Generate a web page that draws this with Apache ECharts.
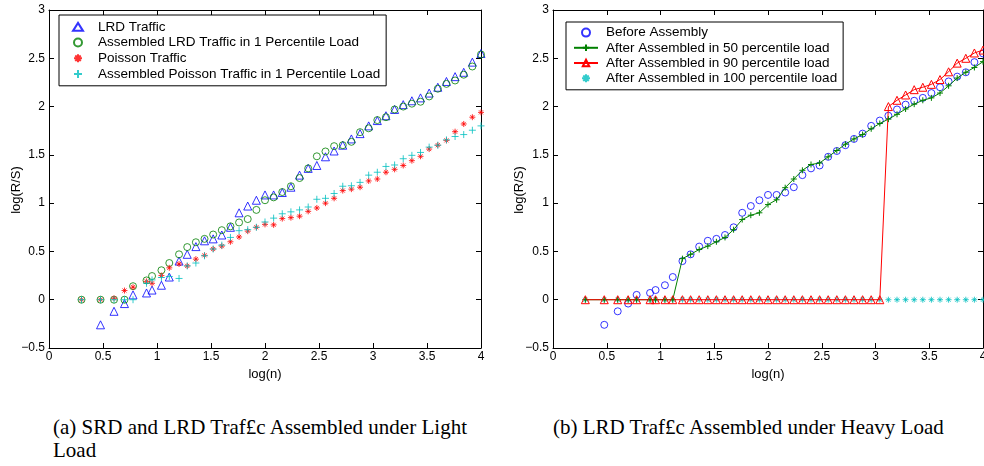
<!DOCTYPE html>
<html>
<head>
<meta charset="utf-8">
<title>R/S plots</title>
<script src="https://cdn.jsdelivr.net/npm/echarts@6/dist/echarts.min.js"></script>
<style>
  body { margin: 0; background: #fff; }
  #wrap { position: relative; width: 984px; height: 466px; overflow: hidden; }
  #lightLoad { position: absolute; left: 0; top: 0; width: 500px; height: 400px; }
  #heavyLoad { position: absolute; left: 500px; top: 0; width: 484px; height: 400px; }
  .cap { position: absolute; font-family: "Liberation Serif"; font-size: 21px; line-height: 23px; color: #000; }
  #capA { left: 53px; top: 416px; width: 414px; text-align: justify; }
  #capB { left: 553px; top: 416px; white-space: nowrap; }
</style>
</head>
<body>
<div id="wrap">
  <div id="lightLoad"></div>
  <div id="heavyLoad"></div>
  <div class="cap" id="capA">(a) SRD and LRD Traf£c Assembled under Light Load</div>
  <div class="cap" id="capB">(b) LRD Traf£c Assembled under Heavy Load</div>
</div>
<script>
// log(n) positions shared by every series
var logN = [0.301, 0.477, 0.602, 0.699, 0.778, 0.903, 0.954, 1.041, 1.114, 1.204,
  1.28, 1.36, 1.44, 1.52, 1.6, 1.68, 1.76, 1.84, 1.92, 2.0,
  2.08, 2.16, 2.24, 2.32, 2.4, 2.48, 2.56, 2.64, 2.72, 2.8,
  2.88, 2.96, 3.04, 3.12, 3.2, 3.28, 3.36, 3.44, 3.52, 3.6,
  3.68, 3.76, 3.84, 3.92, 4.0];

// (a) light load
var lrdTraffic = [null, -0.26, -0.12, -0.04, 0.05, 0.07, 0.10, 0.15, 0.235, 0.40,
  0.47, 0.55, 0.61, 0.63, 0.67, 0.75, 0.90, 0.97, 1.03, 1.085,
  1.085, 1.11, 1.165, 1.29, 1.36, 1.39, 1.48, 1.54, 1.60, 1.665,
  1.72, 1.80, 1.855, 1.905, 1.97, 2.02, 2.06, 2.09, 2.14, 2.20,
  2.26, 2.31, 2.355, 2.46, 2.55];
var lrdAssembled1 = [0, 0, 0, 0, 0.14, 0.20, 0.245, 0.305, 0.38, 0.47,
  0.545, 0.595, 0.63, 0.675, 0.72, 0.76, 0.80, 0.835, 0.93, 1.03,
  1.06, 1.115, 1.175, 1.26, 1.36, 1.485, 1.535, 1.59, 1.60, 1.635,
  1.735, 1.775, 1.86, 1.89, 1.97, 2.00, 2.03, 2.05, 2.105, 2.185,
  2.235, 2.27, 2.33, 2.415, 2.54];
var poissonTraffic = [0, 0, 0.015, 0.095, 0.13, 0.19, 0.17, 0.25, 0.33, 0.37,
  0.35, 0.42, 0.46, 0.525, 0.555, 0.60, 0.65, 0.71, 0.75, 0.78,
  0.775, 0.84, 0.85, 0.865, 0.915, 0.95, 1.00, 1.05, 1.13, 1.145,
  1.165, 1.23, 1.25, 1.32, 1.35, 1.39, 1.44, 1.485, 1.56, 1.60,
  1.65, 1.74, 1.82, 1.89, 1.94];
var poissonAssembled1 = [0, 0, 0, 0, 0, 0.17, 0.205, 0.23, 0.24, 0.22,
  0.35, 0.38, 0.455, 0.525, 0.565, 0.645, 0.715, 0.725, 0.75, 0.805,
  0.845, 0.89, 0.91, 0.93, 0.96, 1.04, 1.05, 1.10, 1.175, 1.18,
  1.215, 1.29, 1.32, 1.38, 1.395, 1.46, 1.495, 1.525, 1.58, 1.60,
  1.655, 1.69, 1.71, 1.755, 1.80];

// (b) heavy load
var beforeAssembly = lrdTraffic;
var assembled50 = [0, 0, 0, 0, 0, 0, 0, 0, 0, 0.425,
  0.47, 0.52, 0.555, 0.60, 0.645, 0.725, 0.83, 0.875, 0.90, 0.985,
  1.035, 1.16, 1.25, 1.34, 1.40, 1.415, 1.48, 1.545, 1.61, 1.665,
  1.71, 1.77, 1.825, 1.87, 1.92, 1.975, 2.025, 2.065, 2.09, 2.14,
  2.215, 2.295, 2.355, 2.405, 2.465];
var assembled90 = [0, 0, 0, 0, 0, 0, 0, 0, 0, 0,
  0, 0, 0, 0, 0, 0, 0, 0, 0, 0,
  0, 0, 0, 0, 0, 0, 0, 0, 0, 0,
  0, 0, 0, 2.00, 2.065, 2.12, 2.175, 2.20, 2.23, 2.28,
  2.36, 2.45, 2.50, 2.555, 2.585];
var assembled100 = [0, 0, 0, 0, 0, 0, 0, 0, 0, 0,
  0, 0, 0, 0, 0, 0, 0, 0, 0, 0,
  0, 0, 0, 0, 0, 0, 0, 0, 0, 0,
  0, 0, 0, 0, 0, 0, 0, 0, 0, 0,
  0, 0, 0, 0, 0];

var FONT = '"Liberation Sans", Arial, sans-serif';
var STAR = 'path://M5,0L5,10M0,5L10,5M1.6,1.6L8.4,8.4M8.4,1.6L1.6,8.4';
var PLUS = 'path://M5,0L5,10M0,5L10,5';

function Page() {
  var _this = this;
  _this.init();
}

Page.prototype = {

  init: function () {
    var _this = this;
    _this.initLightLoad();
    _this.initHeavyLoad();
  },

  points: function (ys) {
    var out = [];
    for (var i = 0; i < logN.length; i++) {
      if (ys[i] !== null) out.push([logN[i], ys[i]]);
    }
    return out;
  },

  // bottom/left axes with labels, top/right axes only for the mirrored ticks
  axes: function () {
    var line = { onZero: false, lineStyle: { color: '#000', width: 1 } };
    var tick = { inside: true, length: 5, lineStyle: { color: '#000' } };
    var xBase = { type: 'value', min: 0, max: 4, interval: 0.5, axisLine: line, axisTick: tick, splitLine: { show: false } };
    var yBase = { type: 'value', min: -0.5, max: 3, interval: 0.5, axisLine: line, axisTick: tick, splitLine: { show: false } };
    return {
      xAxis: [
        Object.assign({}, xBase, {
          position: 'bottom',
          name: 'log(n)', nameLocation: 'middle', nameGap: 16,
          nameTextStyle: { color: '#000', fontSize: 13, fontFamily: FONT },
          axisLabel: { color: '#000', fontSize: 12, fontFamily: FONT, margin: 3 }
        }),
        Object.assign({}, xBase, { position: 'top', axisLabel: { show: false } })
      ],
      yAxis: [
        Object.assign({}, yBase, {
          position: 'left',
          axisLabel: {
            color: '#000', fontSize: 12, fontFamily: FONT, margin: 4,
            formatter: function (v) { return v < 0 ? '\u2212' + Math.abs(v) : String(v); }
          }
        }),
        Object.assign({}, yBase, { position: 'right', axisLabel: { show: false } })
      ]
    };
  },

  // y axis title, rotated like the MATLAB ylabel
  yTitle: function (x) {
    return {
      type: 'text', x: x, y: 190, rotation: Math.PI / 2,
      style: { text: 'log(R/S)', fill: '#000', font: '13px ' + FONT, align: 'center', verticalAlign: 'middle' }
    };
  },

  hollow: function (color) {
    return { color: 'rgba(0,0,0,0)', borderColor: color, borderWidth: 1 };
  },

  initLightLoad: function () {
    var _this = this;
    var myChart = echarts.init(document.getElementById('lightLoad'));
    var ax = _this.axes();

    var option = {
      animation: false,
      grid: { left: 49, top: 10, width: 432, height: 338, containLabel: false, outerBoundsMode: 'none' },
      xAxis: ax.xAxis,
      yAxis: ax.yAxis,
      graphic: [_this.yTitle(16)],
      legend: {
        data: ['LRD Traffic', 'Assembled LRD Traffic in 1 Percentile Load',
          'Poisson Traffic', 'Assembled Poisson Traffic in 1 Percentile Load'],
        orient: 'vertical',
        left: 59,
        top: 15,
        padding: [4, 6, 4, 13],
        itemWidth: 10,
        itemHeight: 8,
        itemGap: 0,
        selectedMode: false,
        backgroundColor: '#fff',
        borderColor: '#000',
        borderWidth: 1,
        textStyle: { color: '#000', fontSize: 13.5, lineHeight: 15.7, fontFamily: FONT, padding: [0, 0, 0, 10] }
      },
      series: [
        {
          name: 'LRD Traffic', type: 'scatter',
          symbol: 'triangle', symbolSize: 8,
          itemStyle: _this.hollow('#0000ff'),
          data: _this.points(lrdTraffic)
        },
        {
          name: 'Assembled LRD Traffic in 1 Percentile Load', type: 'scatter',
          symbol: 'circle', symbolSize: 7,
          itemStyle: _this.hollow('#008000'),
          data: _this.points(lrdAssembled1)
        },
        {
          name: 'Poisson Traffic', type: 'scatter',
          symbol: STAR, symbolSize: 6,
          itemStyle: _this.hollow('#ff0000'),
          data: _this.points(poissonTraffic)
        },
        {
          name: 'Assembled Poisson Traffic in 1 Percentile Load', type: 'scatter',
          symbol: PLUS, symbolSize: 7,
          itemStyle: _this.hollow('#00bfbf'),
          data: _this.points(poissonAssembled1)
        }
      ]
    };

    myChart.setOption(option);
  },

  initHeavyLoad: function () {
    var _this = this;
    var myChart = echarts.init(document.getElementById('heavyLoad'));
    var ax = _this.axes();

    var option = {
      animation: false,
      grid: { left: 53, top: 10, width: 430, height: 338, containLabel: false, outerBoundsMode: 'none' },
      xAxis: ax.xAxis,
      yAxis: ax.yAxis,
      graphic: [_this.yTitle(19)],
      legend: {
        data: ['Before Assembly', 'After Assembled in 50 percentile load',
          'After Assembled in 90 percentile load', 'After Assembled in 100 percentile load'],
        orient: 'vertical',
        left: 66,
        top: 22,
        padding: [3, 6, 4, 7],
        itemWidth: 24,
        itemHeight: 8,
        itemGap: 0,
        selectedMode: false,
        backgroundColor: '#fff',
        borderColor: '#000',
        borderWidth: 1,
        textStyle: { color: '#000', fontSize: 13.5, lineHeight: 15.2, fontFamily: FONT, padding: [0, 0, 0, 3] }
      },
      series: [
        {
          name: 'Before Assembly', type: 'scatter',
          symbol: 'circle', symbolSize: 7,
          itemStyle: _this.hollow('#0000ff'),
          data: _this.points(beforeAssembly)
        },
        {
          name: 'After Assembled in 50 percentile load', type: 'line',
          symbol: PLUS, symbolSize: 6, showAllSymbol: true,
          lineStyle: { color: '#008000', width: 1 },
          itemStyle: _this.hollow('#008000'),
          data: _this.points(assembled50)
        },
        {
          name: 'After Assembled in 90 percentile load', type: 'line',
          symbol: 'triangle', symbolSize: 8, showAllSymbol: true,
          lineStyle: { color: '#ff0000', width: 1 },
          itemStyle: _this.hollow('#ff0000'),
          data: _this.points(assembled90)
        },
        {
          name: 'After Assembled in 100 percentile load', type: 'scatter',
          symbol: STAR, symbolSize: 6,
          itemStyle: _this.hollow('#00bfbf'),
          data: _this.points(assembled100)
        }
      ]
    };

    myChart.setOption(option);
  }
};

var page = new Page();
</script>
</body>
</html>
